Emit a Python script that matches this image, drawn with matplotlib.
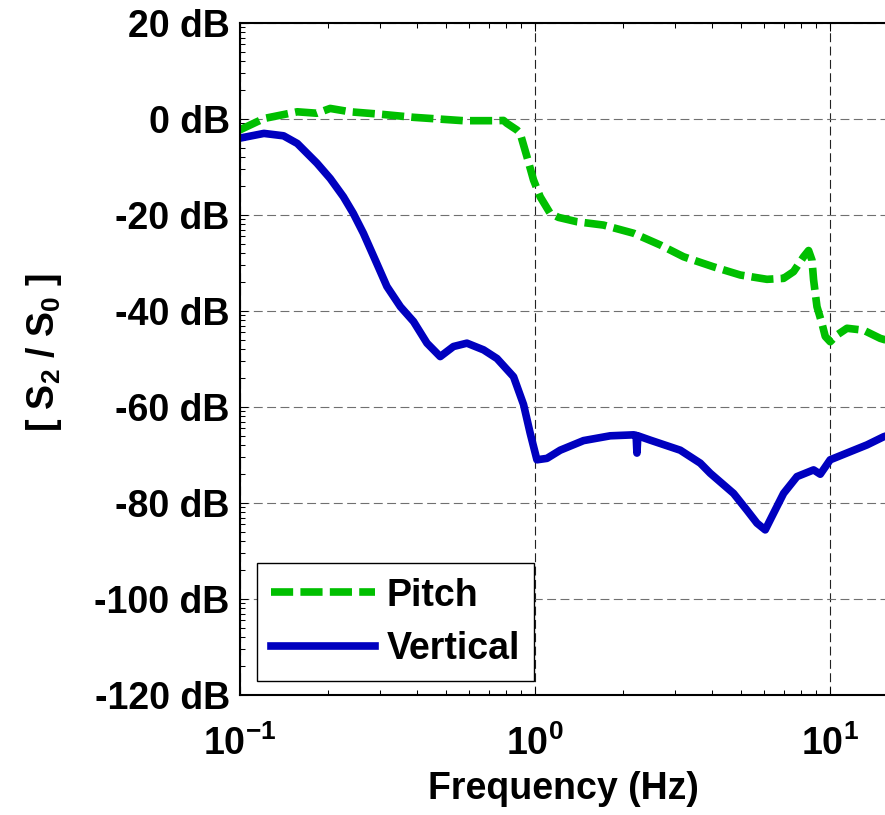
import numpy as np
import matplotlib
matplotlib.use("Agg")
import matplotlib.pyplot as plt
from matplotlib.ticker import LogLocator, FuncFormatter, NullFormatter

plt.rcParams['font.family'] = ['Liberation Sans', 'DejaVu Sans']
plt.rcParams['font.weight'] = 'bold'
plt.rcParams['mathtext.fontset'] = 'custom'
plt.rcParams['mathtext.rm'] = 'Liberation Sans:bold'
plt.rcParams['mathtext.it'] = 'Liberation Sans:bold'
plt.rcParams['mathtext.bf'] = 'Liberation Sans:bold'
plt.rcParams['mathtext.default'] = 'rm'

# transfer ratio S2/S0, pitch and vertical
freq_pitch = [0.100, 0.121, 0.157, 0.183, 0.203, 0.237, 0.300, 0.389, 0.573, 0.746,
              0.785, 0.806, 0.872, 0.894, 0.942, 0.992, 1.045, 1.130, 1.206, 1.392,
              1.713, 2.166, 2.668, 3.200, 4.044, 4.982, 6.135, 6.985, 7.551, 8.165,
              8.490, 8.718, 8.828, 9.065, 9.424, 9.670, 10.05, 10.60, 11.46, 13.04,
              14.85, 16.0]
db_pitch = [-2.3, 0.1, 1.5, 1.2, 2.2, 1.5, 1.0, 0.35, -0.35, -0.35,
            -0.3, -0.9, -2.3, -3.0, -7.8, -12.7, -16.2, -19.65, -20.5, -21.4,
            -22.1, -23.8, -26.25, -28.7, -30.8, -32.5, -33.4, -33.2, -31.8, -28.7,
            -27.4, -29.4, -33.5, -39.1, -42.6, -45.3, -46.4, -45.0, -43.6, -44.0,
            -45.7, -46.3]

freq_vert = [0.100, 0.121, 0.141, 0.157, 0.183, 0.203, 0.225, 0.243, 0.263, 0.292,
             0.316, 0.351, 0.389, 0.432, 0.479, 0.531, 0.590, 0.672, 0.746, 0.849,
             0.918, 0.967, 1.019, 1.102, 1.222, 1.466, 1.806, 2.166, 2.210, 2.224,
             2.240, 2.467, 3.119, 3.646, 3.940, 4.727, 5.248, 5.675, 6.053, 6.379,
             6.985, 7.754, 8.828, 9.300, 10.05, 11.76, 13.39, 15.25, 16.0]
db_vert = [-4.0, -3.0, -3.5, -5.1, -9.2, -12.4, -16.2, -19.65, -23.8, -30.1,
           -34.9, -39.1, -42.2, -46.7, -49.5, -47.4, -46.7, -48.1, -49.9, -53.7,
           -59.5, -65.5, -71.0, -70.7, -69.0, -67.0, -66.0, -65.8, -65.9, -69.6,
           -66.0, -66.9, -69.0, -71.7, -73.8, -78.0, -81.5, -84.2, -85.6, -82.8,
           -78.0, -74.5, -73.1, -74.0, -71.0, -69.3, -67.9, -66.2, -65.8]

amp_pitch = 10 ** (np.array(db_pitch) / 20)
amp_vert = 10 ** (np.array(db_vert) / 20)

fig = plt.figure(figsize=(8.85, 8.15), dpi=100)
ax = fig.add_axes([239.5 / 885, 120 / 815, 648.5 / 885, 672 / 815])

ax.plot(freq_pitch, amp_pitch, color='#00bf00', lw=5.5, linestyle=(0, (2.9, 0.95)),
        label='Pitch')
ax.plot(freq_vert, amp_vert, color='#0000bf', lw=5.5, label='Vertical')

ax.set_xscale('log')
ax.set_yscale('log')
ax.set_xlim(0.1, 15.78)
ax.set_ylim(1e-6, 1e1)

ax.yaxis.set_major_locator(LogLocator(base=10, numticks=20))
ax.yaxis.set_minor_locator(LogLocator(base=10, subs=np.arange(2, 10), numticks=20))
ax.yaxis.set_major_formatter(FuncFormatter(lambda v, _: f"{int(round(20 * np.log10(v)))} dB"))
ax.yaxis.set_minor_formatter(NullFormatter())
ax.xaxis.set_minor_locator(LogLocator(base=10, subs=np.arange(2, 10), numticks=20))
ax.xaxis.set_minor_formatter(NullFormatter())

ax.tick_params(which='both', direction='in', top=True, right=False, width=0.75,
               labelsize=27)
ax.tick_params(which='major', length=6)
ax.tick_params(which='minor', length=3.5)
ax.tick_params(axis='x', pad=22)
ax.tick_params(axis='y', pad=7)

for s in ax.spines.values():
    s.set_linewidth(1.5)

ax.xaxis.grid(True, which='major', color='#222222', linestyle=(0, (8, 4)), lw=0.8)
ax.yaxis.grid(True, which='major', color='#707070', linestyle=(0, (8, 4)), lw=0.8)

ax.set_xlabel('Frequency (Hz)', fontsize=27, fontweight='bold', labelpad=6)
ax.set_ylabel('[ S$_2$ / S$_0$ ]', fontsize=27, fontweight='bold')
ax.yaxis.set_label_coords(-0.27, 0.51)

leg = ax.legend(loc='lower left', bbox_to_anchor=(0.0265, 0.0208), borderaxespad=0,
                prop={'size': 27, 'weight': 'bold'}, fancybox=False, framealpha=1,
                edgecolor='black', handlelength=2.77, handletextpad=0.31,
                borderpad=0.38, labelspacing=0.46)
leg.get_frame().set_linewidth(1.0)

fig.savefig('out.png', dpi=100)
